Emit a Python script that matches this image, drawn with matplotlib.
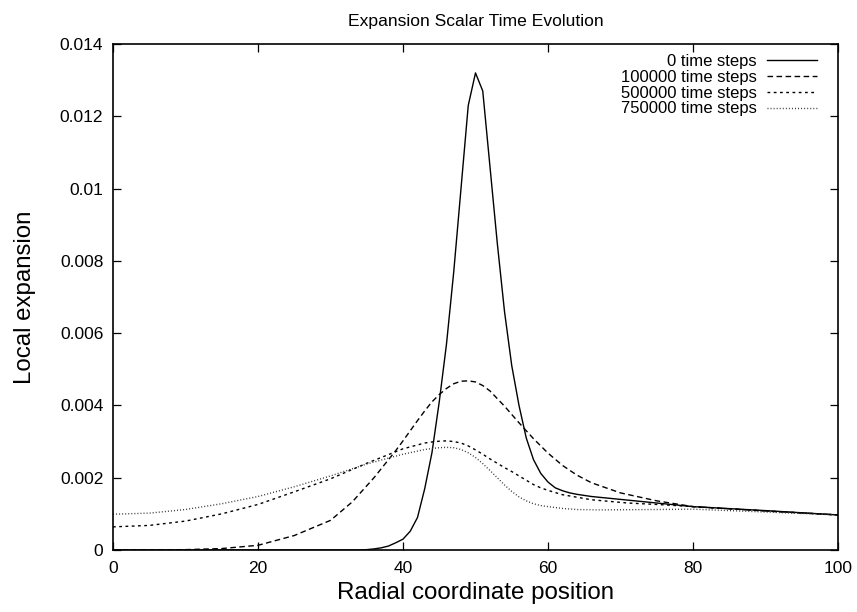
import matplotlib
matplotlib.use("Agg")
import matplotlib.pyplot as plt

plt.rcParams['font.family'] = ['Liberation Sans', 'DejaVu Sans']

# 0 time steps (initial pulse)
x_t0 = [0, 10, 20, 30, 34, 35, 36, 37, 38, 39, 40, 41, 42, 43, 44, 45, 46, 47, 48, 49,
        50, 51, 52, 53, 54, 55, 56, 57, 58, 59, 60, 61, 62, 63, 64, 66, 70, 75, 80, 90, 100]
y_t0 = [0, 0, 0, 0, 0, 0.00001, 0.00003, 0.00006, 0.00011, 0.0002, 0.0003, 0.00052,
        0.0009, 0.0017, 0.0027, 0.0041, 0.0057, 0.0077, 0.0100, 0.0123, 0.0132, 0.0127,
        0.0106, 0.0085, 0.0066, 0.0051, 0.0040, 0.0031, 0.0025, 0.00212, 0.00188,
        0.00172, 0.00164, 0.00158, 0.00154, 0.00148, 0.0014, 0.0013, 0.0012, 0.00109, 0.00097]

# 100000 time steps
x_t1 = [0, 5, 10, 15, 20, 25, 30, 33, 36, 39, 40, 41, 42, 43, 44, 45, 46, 47, 48, 49,
        50, 51, 52, 54, 56, 58, 60, 62, 64, 66, 70, 75, 80, 90, 100]
y_t1 = [0, 0, 0.00001, 0.00004, 0.00013, 0.0004, 0.00082, 0.00133, 0.002, 0.00275,
        0.00302, 0.0033, 0.00358, 0.00385, 0.0041, 0.0043, 0.00447, 0.0046, 0.00467,
        0.00468, 0.00465, 0.00455, 0.0044, 0.00398, 0.00352, 0.00308, 0.00268, 0.00234,
        0.00207, 0.00186, 0.00158, 0.00136, 0.0012, 0.00108, 0.00097]

# 500000 time steps
x_t2 = [0, 5, 10, 15, 20, 25, 30, 35, 40, 43, 44, 45, 46, 47, 48, 49, 50, 51, 52, 53,
        54, 55, 56, 57, 58, 59, 60, 62, 66, 71, 76, 80, 90, 100]
y_t2 = [0.00064, 0.00068, 0.0008, 0.001, 0.00126, 0.00161, 0.00197, 0.0024, 0.0028,
        0.00296, 0.00299, 0.00301, 0.00302, 0.003, 0.00296, 0.00288, 0.00277, 0.00265,
        0.00252, 0.0024, 0.00228, 0.00217, 0.00205, 0.00193, 0.00181, 0.00172, 0.00165,
        0.00153, 0.00139, 0.0013, 0.00125, 0.0012, 0.00108, 0.00097]

# 750000 time steps
x_t3 = [0, 5, 10, 15, 20, 25, 30, 35, 40, 43, 44, 45, 46, 47, 48, 49, 50, 51, 52, 53,
        54, 55, 56, 57, 58, 59, 60, 62, 64, 67, 75, 80, 85, 90, 100]
y_t3 = [0.00099, 0.00102, 0.00112, 0.00128, 0.00148, 0.00175, 0.00205, 0.00238,
        0.00265, 0.00278, 0.00281, 0.00283, 0.00284, 0.00283, 0.00278, 0.00269, 0.00256,
        0.00239, 0.0022, 0.002, 0.0018, 0.00162, 0.00147, 0.00136, 0.00128, 0.00123,
        0.0012, 0.00115, 0.00112, 0.00111, 0.00112, 0.00113, 0.00109, 0.00105, 0.00097]

labels = ['0 time steps', '100000 time steps', '500000 time steps', '750000 time steps']
x_ticks = [0, 20, 40, 60, 80, 100]
y_ticks = [0, 0.002, 0.004, 0.006, 0.008, 0.01, 0.012, 0.014]
y_ticklabels = ['0', '0.002', '0.004', '0.006', '0.008', '0.01', '0.012', '0.014']

fig = plt.figure(figsize=(8.57, 6.12), dpi=100)
ax = fig.add_axes([113 / 857, 62 / 612, 725 / 857, 506 / 612])

lw = 1.0
ax.plot(x_t0, y_t0, color='black', lw=lw, linestyle='-', label=labels[0])
ax.plot(x_t1, y_t1, color='black', lw=lw, linestyle=(0, (4, 2.5)), label=labels[1])
ax.plot(x_t2, y_t2, color='black', lw=lw, linestyle=(0, (2, 2.5)), label=labels[2])
ax.plot(x_t3, y_t3, color='#333333', lw=lw, linestyle=(0, (0.7, 1.5)), label=labels[3])

ax.set_xlim(0, 100)
ax.set_ylim(0, 0.014)
ax.set_xticks(x_ticks)
ax.set_yticks(y_ticks)
ax.set_yticklabels(y_ticklabels)
ax.tick_params(direction='in', top=True, right=True, length=6, width=0.9,
               labelsize=12.5)
ax.tick_params(axis='x', pad=8)
ax.tick_params(axis='y', pad=7)
for sp in ax.spines.values():
    sp.set_linewidth(1.2)

ax.set_title('Expansion Scalar Time Evolution', fontsize=12.6, pad=13)
ax.set_xlabel('Radial coordinate position', fontsize=17.4, labelpad=4)
ax.set_ylabel('Local expansion', fontsize=17.3, labelpad=17)

ax.legend(loc='upper right', bbox_to_anchor=(817 / 857, 1 - 54 / 612),
          bbox_transform=fig.transFigure, frameon=False, markerfirst=False,
          fontsize=12, handlelength=3.0, handletextpad=0.6, labelspacing=0.05,
          borderpad=0, borderaxespad=0)

fig.savefig('out.png', dpi=100)
